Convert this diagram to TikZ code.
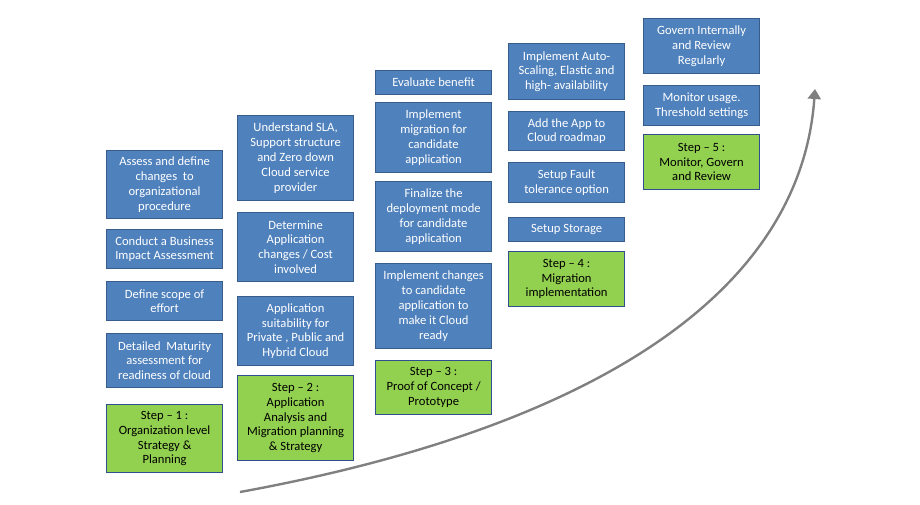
\documentclass[tikz,border=0pt]{standalone}
\usepackage{fontspec}
\setmainfont{Carlito}
\usetikzlibrary{arrows.meta}
\definecolor{taskblue}{HTML}{4F81BD}
\definecolor{taskedge}{HTML}{385D8A}
\definecolor{stepgreen}{HTML}{92D050}
\definecolor{stepedge}{HTML}{2F4F8F}
\definecolor{curvegray}{HTML}{808080}
\begin{document}
\begin{tikzpicture}[x=1pt,y=-1pt,
  task node/.style={rectangle,draw=taskedge,fill=taskblue,line width=1.2pt,text=white,
    font=\fontsize{12.6}{14.8}\selectfont,align=center,anchor=north west,
    minimum width=116pt,inner sep=1pt},
  step node/.style={task node,draw=stepedge,fill=stepgreen,text=black}]

  \useasboundingbox (0,0) rectangle (920,504);

  \node[task node,minimum height=68pt] (a1) at (106,150) {Assess and define\\changes~ to\\organizational\\procedure};
  \node[task node,minimum height=39pt] (a2) at (106,229) {Conduct a Business\\Impact Assessment};
  \node[task node,minimum height=39pt] (a3) at (106,281) {Define scope of\\effort};
  \node[task node,minimum height=54pt] (a4) at (106,333) {Detailed~ Maturity\\assessment for\\readiness of cloud};
  \node[step node,minimum height=68pt] (s1) at (106,404) {Step -- 1 :\\Organization level\\Strategy \&\\Planning};

  \node[task node,minimum height=85pt] (b1) at (237,115) {Understand SLA,\\Support structure\\and Zero down\\Cloud service\\provider};
  \node[task node,minimum height=69pt] (b2) at (237,212) {Determine\\Application\\changes / Cost\\involved};
  \node[task node,minimum height=69pt] (b3) at (237,296) {Application\\suitability for\\Private , Public and\\Hybrid Cloud};
  \node[step node,minimum height=85pt] (s2) at (237,375) {Step -- 2 :\\Application\\Analysis and\\Migration planning\\\& Strategy};

  \node[task node,minimum height=24pt] (c1) at (375,70) {Evaluate benefit};
  \node[task node,minimum height=70pt] (c2) at (375,102) {Implement\\migration for\\candidate\\application};
  \node[task node,minimum height=70pt] (c3) at (375,181) {Finalize the\\deployment mode\\for candidate\\application};
  \node[task node,minimum height=85pt] (c4) at (375,263) {Implement changes\\to candidate\\application to\\make it Cloud\\ready};
  \node[step node,minimum height=54pt] (s3) at (375,360) {Step -- 3 :\\Proof of Concept /\\Prototype};

  \node[task node,minimum height=56pt] (d1) at (508,43) {Implement Auto-\\Scaling, Elastic and\\high- availability};
  \node[task node,minimum height=39pt] (d2) at (508,111) {Add the App to\\Cloud roadmap};
  \node[task node,minimum height=40pt] (d3) at (508,162) {Setup Fault\\tolerance option};
  \node[task node,minimum height=24pt] (d4) at (508,217) {Setup Storage};
  \node[step node,minimum height=55pt] (s4) at (508,251) {Step -- 4 :\\Migration\\implementation};

  \node[task node,minimum height=55pt] (e1) at (643,18) {Govern Internally\\and Review\\Regularly};
  \node[task node,minimum height=40pt] (e2) at (643,85) {Monitor usage.\\Threshold settings};
  \node[step node,minimum height=55pt] (s5) at (643,134) {Step -- 5 :\\Monitor, Govern\\and Review};

  \coordinate (start) at (240,492);
  \coordinate (goal) at (815,89);
  \draw[curvegray,line width=2.4pt,-{Triangle[length=10pt,width=13pt]}]
    (start) .. controls (580,430) and (800,300) .. (goal);
\end{tikzpicture}
\end{document}
